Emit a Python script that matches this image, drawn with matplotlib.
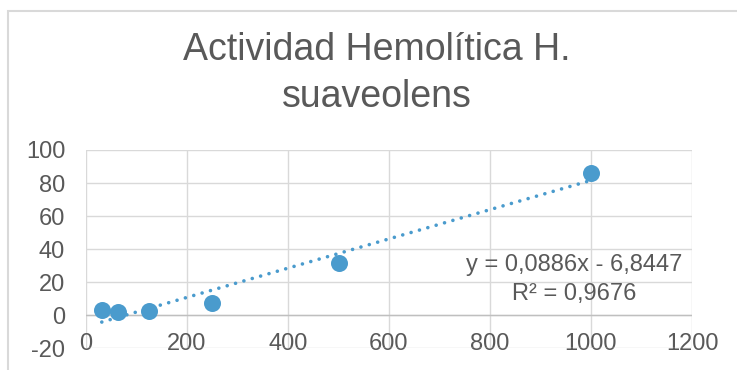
import numpy as np
import matplotlib
matplotlib.use("Agg")
import matplotlib.pyplot as plt
from matplotlib.patches import Rectangle

# Data
concentration = [31.25, 62.5, 125, 250, 500, 1000]
hemolysis = [3.2, 1.8, 2.8, 7.4, 31.4, 86.3]
x_ticks = [0, 200, 400, 600, 800, 1000, 1200]
y_ticks = [-20, 0, 20, 40, 60, 80, 100]
title_lines = ["Actividad Hemolítica H.", "suaveolens"]
eq_lines = ["y = 0,0886x - 6,8447", "R² = 0,9676"]

W, H = 737, 370
plt.rcParams['font.family'] = ['Liberation Sans', 'DejaVu Sans']
plt.rcParams['axes.unicode_minus'] = False
fig = plt.figure(figsize=(W / 100, H / 100), dpi=100)

# chart border (partially visible)
fig.patches.append(Rectangle((7.5 / W, -0.1), 1.2, 1 - 11 / H + 0.1,
                             transform=fig.transFigure, fill=False,
                             edgecolor='#D9D9D9', linewidth=1.5))

left, right, top, bottom = 86, 692, 150, 348.3
ax = fig.add_axes([left / W, 1 - bottom / H, (right - left) / W, (bottom - top) / H])

blue = '#4A9BCD'
text_c = '#595959'
grid_c = '#D9D9D9'

ax.set_xlim(0, 1200)
ax.set_ylim(-20, 100)
ax.set_xticks(x_ticks)
ax.set_yticks(y_ticks)
ax.grid(True, color=grid_c, linewidth=1.0)
ax.set_axisbelow(True)
for s in ax.spines.values():
    s.set_visible(False)
ax.axhline(0, color='#BFBFBF', linewidth=1.0, zorder=1)

ax.tick_params(axis='both', length=0, labelsize=17, labelcolor=text_c)
ax.tick_params(axis='x', pad=-11)
ax.tick_params(axis='y', pad=15)

# trendline
x = np.array(concentration)
yv = np.array(hemolysis)
m, b = np.polyfit(x, yv, 1)
xt = np.array([x.min(), x.max()])
ax.plot(xt, m * xt + b, linestyle=(0, (0.01, 2.4)), color=blue, linewidth=2.6,
        dash_capstyle='round', zorder=2)

ax.scatter(concentration, hemolysis, s=150, color=blue, zorder=3, linewidths=0)

for txt, yb in zip(eq_lines, [271.5, 300]):
    fig.text(574 / W, 1 - yb / H, txt, ha='center', va='baseline',
             fontsize=17, color=text_c)

for txt, yb in zip(title_lines, [60, 107]):
    fig.text(376.5 / W, 1 - yb / H, txt, ha='center', va='baseline',
             fontsize=27, color=text_c)

fig.savefig('out.png', dpi=100)
